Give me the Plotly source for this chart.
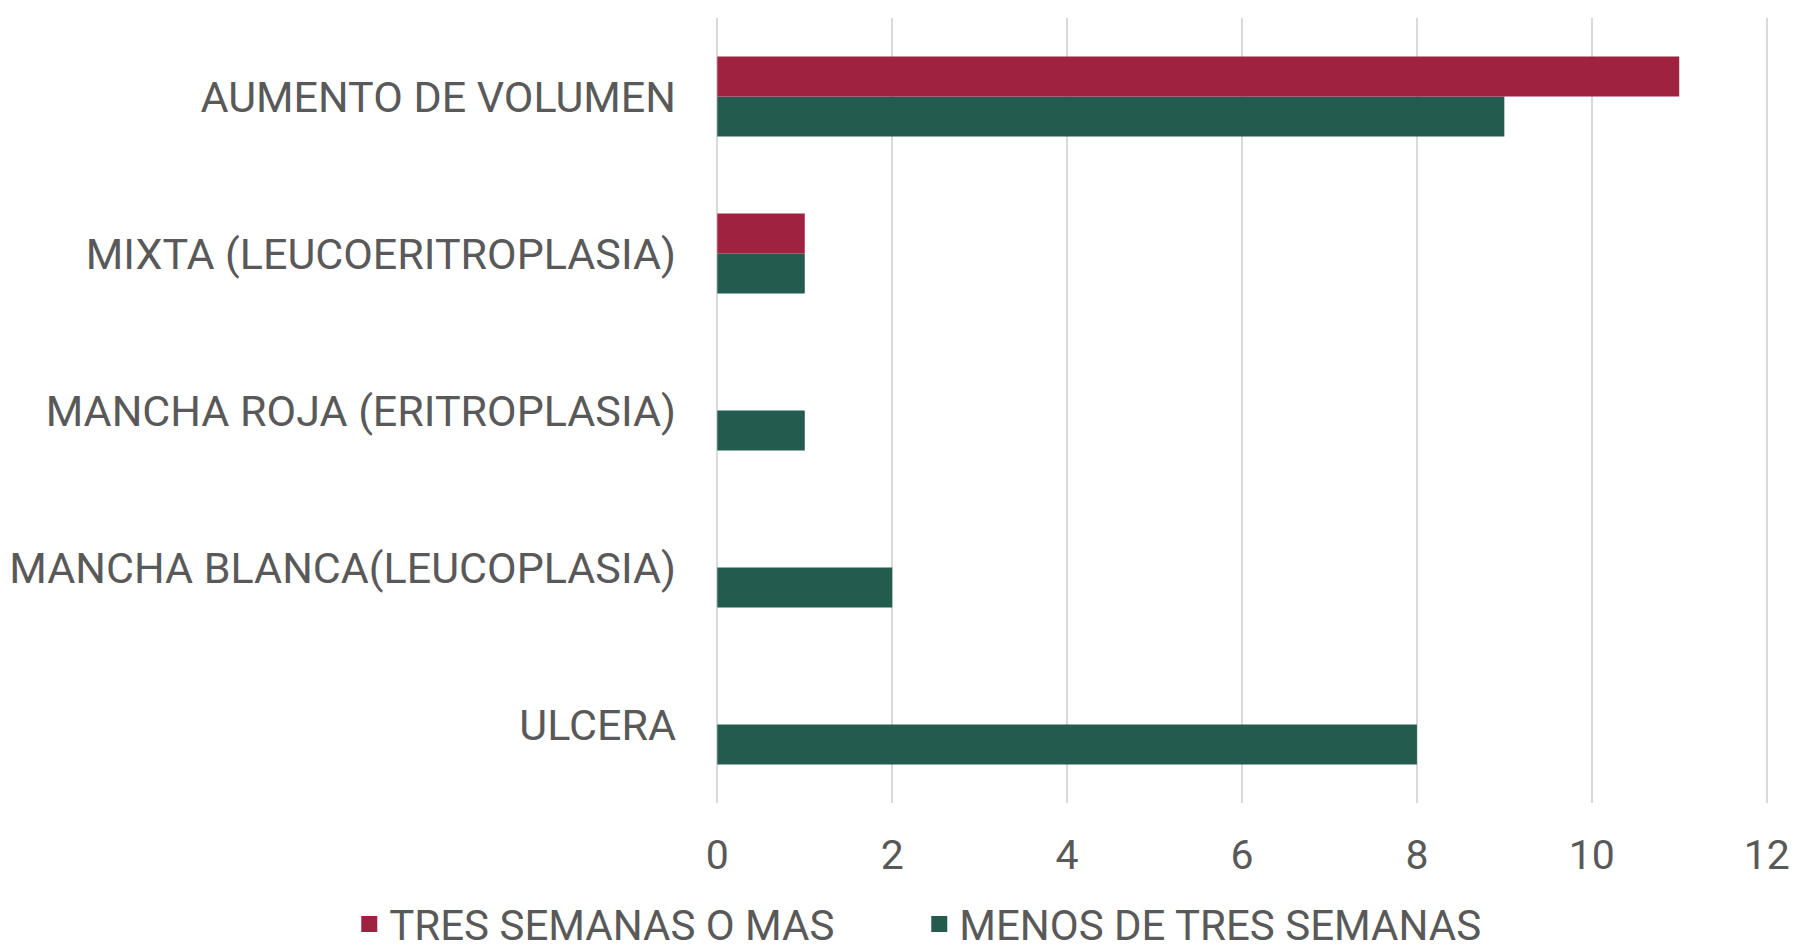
import plotly.graph_objects as go

categories = [
    "ULCERA",
    "MANCHA BLANCA(LEUCOPLASIA)",
    "MANCHA ROJA (ERITROPLASIA)",
    "MIXTA (LEUCOERITROPLASIA)",
    "AUMENTO DE VOLUMEN",
]
tres_semanas = [0, 0, 0, 1, 11]
menos_tres = [8, 2, 1, 1, 9]
x_ticks = [0, 2, 4, 6, 8, 10, 12]
series_names = ["TRES SEMANAS O MAS", "MENOS DE TRES SEMANAS"]

RED = "#9F2241"
GREEN = "#235B4E"
TEXT = "#595959"
FONT = "Roboto"

fig = go.Figure()
fig.add_trace(go.Bar(
    y=categories, x=menos_tres, orientation="h", name=series_names[1],
    marker=dict(color=GREEN, line=dict(width=0)), showlegend=False,
))
fig.add_trace(go.Bar(
    y=categories, x=tres_semanas, orientation="h", name=series_names[0],
    marker=dict(color=RED, line=dict(width=0)), showlegend=False,
))
# legend entries with larger square swatches
for nm, col, rk in [(series_names[0], RED, 1), (series_names[1], GREEN, 2)]:
    fig.add_trace(go.Scatter(
        x=[None], y=[None], mode="markers", name=nm, legendrank=rk,
        marker=dict(symbol="square", size=18, color=col),
    ))

fig.update_layout(
    width=1790, height=942,
    barmode="group", bargap=0.49, bargroupgap=0,
    paper_bgcolor="#FFFFFF", plot_bgcolor="#FFFFFF",
    margin=dict(l=708, r=30, t=10, b=147, autoexpand=False),
    font=dict(family=FONT, size=43, color=TEXT),
    xaxis=dict(
        range=[-0.015, 12.015], tickvals=x_ticks, showgrid=True, gridcolor="#D9D9D9",
        gridwidth=1.5, zeroline=False, showline=False, ticks="",
        tickfont=dict(family=FONT, size=41, color=TEXT), automargin=False,
        ticklabelstandoff=24,
    ),
    yaxis=dict(
        showgrid=False, zeroline=False, showline=False, ticks="",
        tickfont=dict(family=FONT, size=43, color=TEXT), automargin=False,
        ticklabelstandoff=39,
    ),
    legend=dict(
        orientation="h",
        x=-0.3486, xanchor="left", y=-0.1545, yanchor="middle",
        font=dict(family=FONT, size=42, color=TEXT), itemwidth=30,
        entrywidth=525, entrywidthmode="pixels",
        bgcolor="rgba(0,0,0,0)", itemsizing="trace",
    ),
)

fig.write_html("out.html")
